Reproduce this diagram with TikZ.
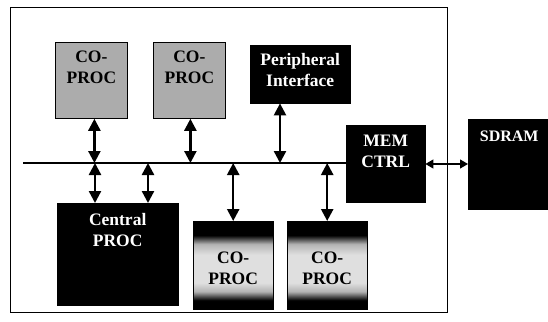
\documentclass[tikz,border=0pt]{standalone}
\usepackage{fontspec}
\setmainfont{Liberation Serif}
\usetikzlibrary{arrows.meta}
% vertical grey ramp (path occupies 25bp..75bp): black rims, light band in the middle
\pgfdeclareverticalshading{coprocramp}{100bp}{%
  color(0bp)=(black); color(30bp)=(black); color(35bp)=(gray!60);
  color(40bp)=(gray!25); color(56bp)=(gray!25); color(62bp)=(gray!60);
  color(67bp)=(black); color(100bp)=(black)}
\begin{document}
\begin{tikzpicture}[x=1pt,y=-1pt,
  lbl/.style={font=\bfseries\fontsize{17.5}{21}\selectfont, align=center, inner sep=0pt},
  darkbox/.style={draw=black, fill=black, anchor=north west, inner sep=0pt},
  greybox/.style={draw=black, line width=0.8pt, fill={rgb,255:red,172;green,172;blue,172}, anchor=north west, inner sep=0pt},
  rampbox/.style={draw=black, shading=coprocramp, anchor=north west, inner sep=0pt},
  busline/.style={line width=2.5pt},
  biarrow/.style={line width=2.4pt, {Triangle[width=12pt,length=12pt]}-{Triangle[width=12pt,length=12pt]}},
  thinarrow/.style={line width=1.2pt, {Triangle[width=9pt,length=8pt]}-{Triangle[width=9pt,length=8pt]}}]
\useasboundingbox (0,0) rectangle (548,321);

% enclosing chip outline
\node[draw=black, line width=0.8pt, anchor=north west, minimum width=437pt, minimum height=305pt, inner sep=0pt] (chip) at (10,7) {};

% blocks on the chip
\node[greybox, minimum width=72pt, minimum height=76pt] (cp1) at (55,42) {};
\node[greybox, minimum width=72pt, minimum height=76pt] (cp2) at (153,42) {};
\node[darkbox, minimum width=100pt, minimum height=58pt] (pif) at (250,45) {};
\node[darkbox, minimum width=79pt, minimum height=77pt] (mem) at (346,125) {};
\node[darkbox, minimum width=121pt, minimum height=102pt] (cpu) at (57,203) {};
\node[rampbox, minimum width=80pt, minimum height=88pt] (cp3) at (193,221) {};
\node[rampbox, minimum width=80pt, minimum height=88pt] (cp4) at (287,221) {};

% off-chip memory
\node[darkbox, minimum width=82pt, minimum height=90pt] (sdram) at (468,119) {};

% labels
\node[lbl, text=black] (cp1t) at ([yshift=-25.5pt]cp1.north) {CO-\\PROC};
\node[lbl, text=black] (cp2t) at ([yshift=-25.5pt]cp2.north) {CO-\\PROC};
\node[lbl, text=white] (pift) at ([yshift=-25pt]pif.north) {Peripheral\\Interface};
\node[lbl, text=white] (memt) at ([yshift=-26pt]mem.north) {MEM\\CTRL};
\node[lbl, text=white] (cput) at ([yshift=-27pt]cpu.north) {Central\\PROC};
\node[lbl, text=black] (cp3t) at ([yshift=-47pt]cp3.north) {CO-\\PROC};
\node[lbl, text=black] (cp4t) at ([yshift=-47pt]cp4.north) {CO-\\PROC};
\node[lbl, text=white, font=\bfseries\fontsize{16}{20}\selectfont] (sdramt) at ([yshift=-17pt]sdram.north) {SDRAM};

% system bus
\coordinate (busL) at (23,163);
\draw[busline] (busL) -- (mem.west |- busL);

% bus taps
\draw[biarrow] ([xshift=3pt]cp1.south) -- ([xshift=3pt]cp1.south |- busL);
\draw[biarrow] ([xshift=1pt]cp2.south) -- ([xshift=1pt]cp2.south |- busL);
\draw[biarrow] ([xshift=30pt]pif.south west) -- ([xshift=30pt]pif.south west |- busL);
\draw[biarrow] ([xshift=38pt]cpu.north west) -- ([xshift=38pt]cpu.north west |- busL);
\draw[biarrow] ([xshift=91pt]cpu.north west) -- ([xshift=91pt]cpu.north west |- busL);
\draw[biarrow] (cp3.north) -- (cp3.north |- busL);
\draw[biarrow] (cp4.north) -- (cp4.north |- busL);

% memory controller to SDRAM
\draw[thinarrow] ([yshift=-1pt]mem.east |- busL) -- ([yshift=-1pt]sdram.west |- busL);
\end{tikzpicture}
\end{document}
